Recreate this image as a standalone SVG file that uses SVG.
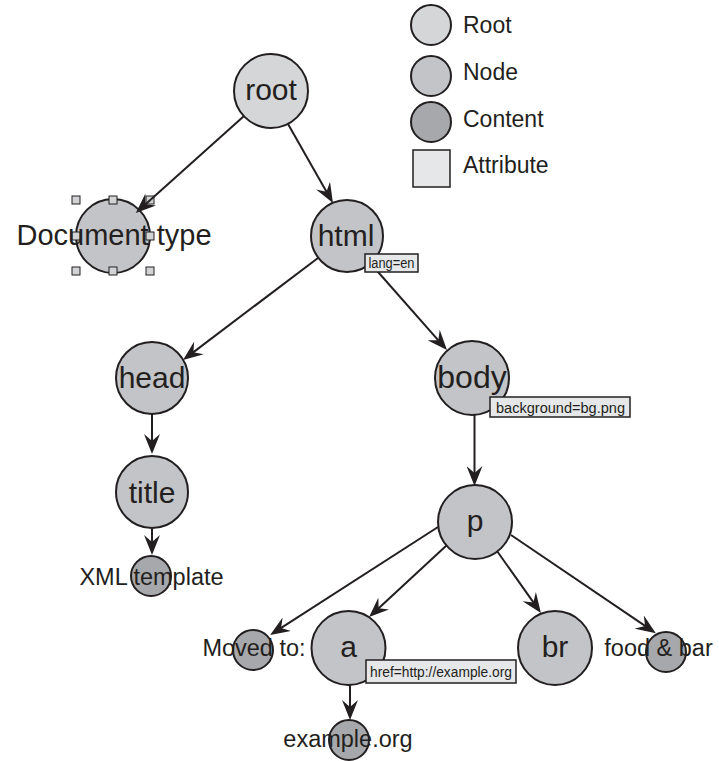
<svg xmlns="http://www.w3.org/2000/svg" width="719" height="761" viewBox="0 0 719 761">
<defs>
<style>
.c{stroke:#231f20;stroke-width:2}
.root{fill:#d5d6d8}
.node{fill:#c3c4c7}
.cont{fill:#a7a8ab}
.attr{fill:#e6e7e8;stroke:#231f20;stroke-width:1.5}
.hdl{fill:#d1d3d4;stroke:#231f20;stroke-width:1}
.lbl{font-family:"Liberation Sans",Arial,sans-serif;font-size:30px;fill:#231f20;text-anchor:middle}
.ctl{font-family:"Liberation Sans",Arial,sans-serif;font-size:23.5px;fill:#231f20;text-anchor:middle}
.lg{font-family:"Liberation Sans",Arial,sans-serif;font-size:23px;fill:#231f20}
.at{font-family:"Liberation Sans Narrow","Liberation Sans",Arial,sans-serif;font-size:14px;fill:#231f20}
.e{stroke:#231f20;stroke-width:2;fill:none;marker-end:url(#ah)}
</style>
<marker id="ah" viewBox="0 0 20 16" refX="11" refY="8" markerWidth="20" markerHeight="16" markerUnits="userSpaceOnUse" orient="auto">
<path d="M20,8 L0,0 L7,8 L0,16 Z" fill="#231f20"/>
</marker>
</defs>
<rect width="719" height="761" fill="#ffffff"/>

<g id="n-doctype">
<circle class="c node" cx="113" cy="236" r="37"/>
<rect class="hdl" x="72" y="196" width="8" height="8"/>
<rect class="hdl" x="109" y="196" width="8" height="8"/>
<rect class="hdl" x="146" y="196" width="8" height="8"/>
<rect class="hdl" x="72" y="232" width="8" height="8"/>
<rect class="hdl" x="146" y="232" width="8" height="8"/>
<rect class="hdl" x="72" y="267" width="8" height="8"/>
<rect class="hdl" x="109" y="267" width="8" height="8"/>
<rect class="hdl" x="146" y="267" width="8" height="8"/>
<text class="lbl" x="114" y="245" style="font-size:29px">Document type</text>
</g>

<g id="connectors">
<line class="e" x1="244" y1="116" x2="142.5" y2="207"/>
<line class="e" x1="288" y1="124" x2="328.5" y2="195.2"/>
<line class="e" x1="318" y1="258" x2="190.2" y2="354.6"/>
<line class="e" x1="371" y1="264" x2="441" y2="343.3"/>
<line class="e" x1="152" y1="414" x2="152" y2="445"/>
<line class="e" x1="152" y1="528" x2="152" y2="546"/>
<line class="e" x1="474.5" y1="415" x2="474.5" y2="477"/>
<line class="e" x1="438" y1="527" x2="277.7" y2="630.2"/>
<line class="e" x1="447" y1="545" x2="375.7" y2="611"/>
<line class="e" x1="497" y1="551" x2="535.7" y2="605.7"/>
<line class="e" x1="511" y1="535" x2="648.4" y2="628.2"/>
<line class="e" x1="350" y1="685" x2="350" y2="711"/>
</g>

<g id="legend">
<circle class="c root" cx="431" cy="25" r="20"/>
<text class="lg" x="463" y="33">Root</text>
<circle class="c node" cx="431" cy="76" r="20"/>
<text class="lg" x="463" y="80">Node</text>
<circle class="c cont" cx="431" cy="122" r="20"/>
<text class="lg" x="463" y="127">Content</text>
<rect class="attr" x="413" y="150" width="37" height="37"/>
<text class="lg" x="463" y="173">Attribute</text>
</g>

<g id="n-root">
<circle class="c root" cx="271" cy="91" r="37"/>
<text class="lbl" x="271" y="100">root</text>
</g>

<g id="n-html">
<circle class="c node" cx="347" cy="236" r="36"/>
<text class="lbl" x="346" y="246">html</text>
<rect class="attr" x="365" y="254" width="53" height="18"/>
<text class="at" x="368.5" y="268" textLength="46" lengthAdjust="spacingAndGlyphs">lang=en</text>
</g>

<g id="n-head">
<circle class="c node" cx="152" cy="378" r="36"/>
<text class="lbl" x="152" y="388">head</text>
</g>

<g id="n-body">
<circle class="c node" cx="472" cy="378" r="37"/>
<text class="lbl" x="472" y="388" style="font-size:32px">body</text>
<rect class="attr" x="490" y="397" width="140" height="20"/>
<text class="at" x="496" y="413" textLength="129" lengthAdjust="spacingAndGlyphs">background=bg.png</text>
</g>

<g id="n-title">
<circle class="c node" cx="152" cy="492" r="36"/>
<text class="lbl" x="152" y="503">title</text>
</g>

<g id="n-xml">
<circle class="c cont" cx="151" cy="576" r="20"/>
<text class="ctl" x="151.5" y="585">XML template</text>
</g>

<g id="n-p">
<circle class="c node" cx="475" cy="522" r="37"/>
<text class="lbl" x="475" y="531">p</text>
</g>

<g id="n-moved">
<circle class="c cont" cx="253" cy="650" r="20"/>
<text class="ctl" x="254" y="656">Moved to:</text>
</g>

<g id="n-a">
<circle class="c node" cx="348.5" cy="648" r="37"/>
<text class="lbl" x="348.5" y="657">a</text>
<rect class="attr" x="366" y="660" width="150" height="23"/>
<text class="at" x="370" y="677" textLength="142" lengthAdjust="spacingAndGlyphs">href=http://example.org</text>
</g>

<g id="n-example">
<circle class="c cont" cx="349" cy="740" r="20"/>
<text class="ctl" x="348" y="747">example.org</text>
</g>

<g id="n-br">
<circle class="c node" cx="555" cy="648" r="37"/>
<text class="lbl" x="555" y="657">br</text>
</g>

<g id="n-food">
<circle class="c cont" cx="666" cy="652" r="20"/>
<text class="ctl" x="658.5" y="656">food &amp; bar</text>
</g>
</svg>
